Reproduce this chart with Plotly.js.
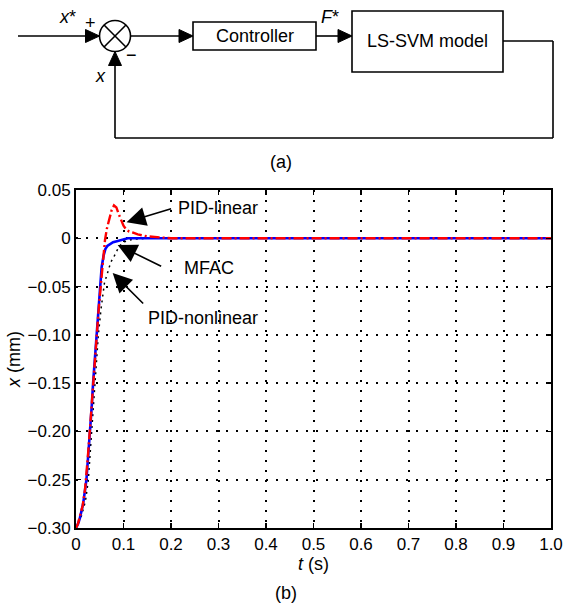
<!DOCTYPE html>
<html><head><meta charset="utf-8">
<script src="https://cdn.plot.ly/plotly-3.0.1.min.js"></script>
<style>html,body{margin:0;padding:0;background:#fff}#chart{width:563px;height:605px}</style>
</head><body><div id="chart"></div>
<script>
// ---- data ----
const tLinear = [0, 0.004, 0.008, 0.014, 0.019, 0.021, 0.025, 0.029, 0.033, 0.036, 0.040, 0.043, 0.048, 0.052, 0.055, 0.058, 0.061, 0.065, 0.070, 0.075, 0.080, 0.085, 0.090, 0.096, 0.100, 0.106, 0.112, 0.119, 0.130, 0.150, 0.170, 0.200, 0.400, 0.600, 0.800, 1.000];
const xLinear = [-0.300, -0.296, -0.288, -0.277, -0.260, -0.250, -0.226, -0.200, -0.172, -0.150, -0.122, -0.100, -0.072, -0.050, -0.032, -0.015, -0.002, 0.010, 0.020, 0.029, 0.034, 0.032, 0.025, 0.017, 0.013, 0.009, 0.007, 0.006, 0.004, 0.002, 0.001, 0, 0, 0, 0, 0];
const tMFAC = [0, 0.004, 0.008, 0.015, 0.022, 0.026, 0.029, 0.033, 0.036, 0.040, 0.044, 0.048, 0.051, 0.054, 0.058, 0.062, 0.066, 0.071, 0.078, 0.086, 0.095, 0.109, 0.130, 0.200, 0.400, 0.600, 0.800, 1.000];
const xMFAC = [-0.300, -0.296, -0.290, -0.275, -0.250, -0.225, -0.200, -0.175, -0.150, -0.125, -0.100, -0.070, -0.048, -0.030, -0.018, -0.011, -0.008, -0.006, -0.004, -0.003, -0.002, 0, 0, 0, 0, 0, 0, 0];
const tNonlin = [0, 0.010, 0.020, 0.026, 0.033, 0.040, 0.047, 0.053, 0.060, 0.067, 0.073, 0.080, 0.088, 0.095, 0.105, 0.120, 0.150, 0.200, 1.000];
const xNonlin = [-0.300, -0.290, -0.272, -0.250, -0.200, -0.150, -0.100, -0.072, -0.046, -0.035, -0.025, -0.019, -0.011, -0.006, -0.003, -0.001, 0, 0, 0];

const seriesNames = ['PID-linear', 'MFAC', 'PID-nonlinear'];
const xTickVals = [0, 0.1, 0.2, 0.3, 0.4, 0.5, 0.6, 0.7, 0.8, 0.9, 1.0];
const xTickText = ['0', '0.1', '0.2', '0.3', '0.4', '0.5', '0.6', '0.7', '0.8', '0.9', '1.0'];
const yTickVals = [0.05, 0, -0.05, -0.10, -0.15, -0.20, -0.25, -0.30];
const yTickText = ['0.05', '0', '\u22120.05', '\u22120.10', '\u22120.15', '\u22120.20', '\u22120.25', '\u22120.30'];

// ---- layout geometry ----
const W = 563, H = 605, L = 76, R = 12, T = 190, B = 77;
const pw = W - L - R, ph = H - T - B;
const px = x => (x - L) / pw;
const py = y => (H - B - y) / ph;
const FONT = 'Liberation Sans, Arial, sans-serif';

const shapes = [];
const annotations = [];
function line(x0, y0, x1, y1) {
  shapes.push({type: 'line', xref: 'paper', yref: 'paper', x0: px(x0), y0: py(y0), x1: px(x1), y1: py(y1),
    line: {color: '#000', width: 1.6}});
}
function rect(x0, y0, x1, y1) {
  shapes.push({type: 'rect', xref: 'paper', yref: 'paper', x0: px(x0), y0: py(y0), x1: px(x1), y1: py(y1),
    line: {color: '#000', width: 1.6}, fillcolor: 'rgba(0,0,0,0)'});
}
function head(tx, ty, dx, dy, len, hw) {
  const bx = tx - dx * len, by = ty - dy * len;
  const nx = -dy, ny = dx;
  const p = [[tx, ty], [bx + nx * hw, by + ny * hw], [bx - nx * hw, by - ny * hw]];
  const d = 'M ' + p.map(q => px(q[0]) + ',' + py(q[1])).join(' L ') + ' Z';
  shapes.push({type: 'path', xref: 'paper', yref: 'paper', path: d, fillcolor: '#000', line: {color: '#000', width: 1}});
}
function label(x, y, text, size, extra) {
  annotations.push(Object.assign({xref: 'paper', yref: 'paper', x: px(x), y: py(y), text: text, showarrow: false,
    xanchor: 'center', yanchor: 'middle', font: {family: FONT, size: size || 18, color: '#000'}}, extra || {}));
}

// block diagram (a)
const cx = 115, cy = 36, cr = 15.5, k = cr * 0.707;
line(18, 36, 86, 36); head(99.5, 36, 1, 0, 14, 6.5);
shapes.push({type: 'circle', xref: 'paper', yref: 'paper', x0: px(cx - cr), x1: px(cx + cr), y0: py(cy + cr), y1: py(cy - cr),
  line: {color: '#000', width: 1.6}});
line(cx - k, cy - k, cx + k, cy + k); line(cx - k, cy + k, cx + k, cy - k);
line(cx + cr, 36, 180, 36); head(193, 36, 1, 0, 14, 6.5);
rect(193, 22, 316, 50);
line(316, 36, 339, 36); head(352, 36, 1, 0, 14, 6.5);
rect(352, 11, 503, 72);
line(503, 41, 553, 41); line(553, 41, 553, 138); line(553, 138, cx, 138); line(cx, 138, cx, 65);
head(cx, cy + cr, 0, -1, 14, 6.5);
label(67, 17, '<i>x</i>*');
label(90, 23, '+');
label(131, 55, '\u2212');
label(100, 76, '<i>x</i>');
label(330, 17, '<i>F</i>*');
label(254.5, 36, 'Controller');
label(427.5, 41, 'LS-SVM model');
label(281, 162, '(a)');
label(286, 593, '(b)');

// curve callouts
const arrowStyle = {showarrow: true, arrowhead: 2, arrowsize: 2.4, arrowwidth: 1.6, arrowcolor: '#000', standoff: 0, text: ' ',
  xref: 'x', yref: 'y', axref: 'pixel', ayref: 'pixel', font: {size: 1}};
annotations.push(Object.assign({}, arrowStyle, {x: 0.1065, y: 0.0166, ax: 46, ay: -14}));
annotations.push(Object.assign({}, arrowStyle, {x: 0.0877, y: -0.0069, ax: 45, ay: 22}));
annotations.push(Object.assign({}, arrowStyle, {x: 0.0772, y: -0.036, ax: 32, ay: 32}));
label(218, 208, seriesNames[0]);
label(209, 268, seriesNames[1]);
label(203, 318, seriesNames[2]);

const traces = [
  {x: tNonlin, y: xNonlin, name: seriesNames[2], mode: 'lines', line: {color: '#000', width: 1.5, dash: '2px,4px'}},
  {x: tMFAC, y: xMFAC, name: seriesNames[1], mode: 'lines', line: {color: '#0000ff', width: 2.6}},
  {x: tLinear, y: xLinear, name: seriesNames[0], mode: 'lines', line: {color: '#ff0000', width: 2.4, dash: '10px,3px,2px,3px'}}
];

const axisCommon = {showline: true, linewidth: 2, linecolor: '#000', mirror: 'ticks', ticks: 'inside', ticklen: 5,
  tickwidth: 1.5, tickcolor: '#000', showgrid: true, gridcolor: '#000', gridwidth: 2, griddash: '2px,8px',
  zeroline: false, ticklabeloverflow: 'allow', automargin: false, tickfont: {family: FONT, size: 17, color: '#000'}};

const layout = {
  width: W, height: H, margin: {l: L, r: R, t: T, b: B}, showlegend: false,
  paper_bgcolor: '#fff', plot_bgcolor: '#fff', font: {family: FONT, color: '#000'},
  xaxis: Object.assign({}, axisCommon, {range: [0, 1.0000001], tickmode: 'array', tickvals: xTickVals, ticktext: xTickText,
    title: {text: '<i>t</i> (s)', font: {family: FONT, size: 18, color: '#000'}, standoff: 4}}),
  yaxis: Object.assign({}, axisCommon, {range: [-0.30, 0.05], tickmode: 'array', tickvals: yTickVals, ticktext: yTickText,
    title: {text: '<i>x</i> (mm)', font: {family: FONT, size: 18, color: '#000'}, standoff: 2}}),
  shapes: shapes, annotations: annotations
};
Plotly.newPlot('chart', traces, layout, {staticPlot: true});
</script></body></html>
